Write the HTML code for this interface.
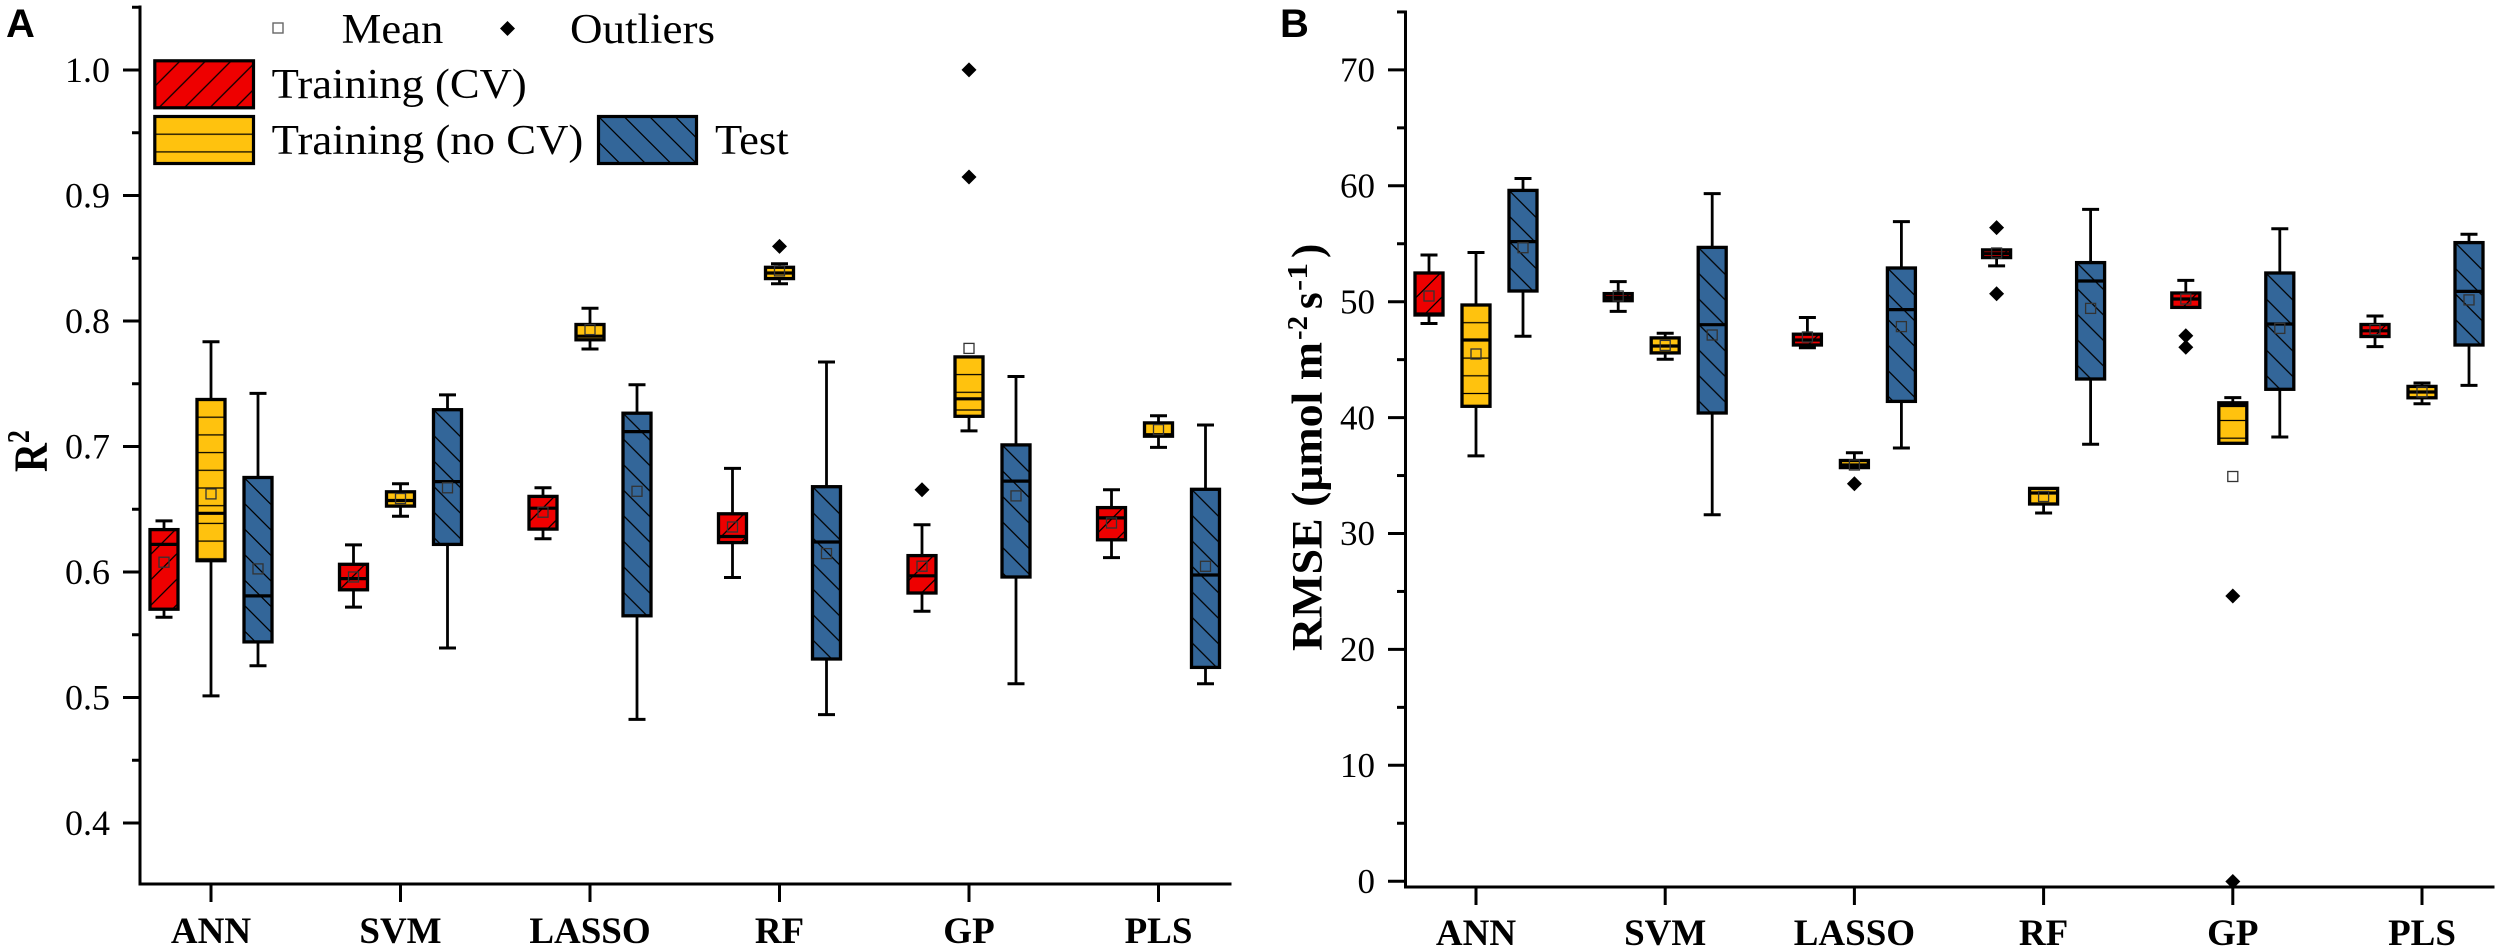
<!DOCTYPE html>
<html>
<head>
<meta charset="utf-8">
<style>
html,body{margin:0;padding:0;background:#fff;width:2500px;height:952px;overflow:hidden}
svg{display:block}
.serif{font-family:"Liberation Serif","Times New Roman",serif;fill:#000}
.sans{font-family:"Liberation Sans",Arial,sans-serif;fill:#000;font-weight:bold}
</style>
</head>
<body>
<svg id="s" xmlns="http://www.w3.org/2000/svg" width="2500" height="952" viewBox="0 0 2500 952">
<defs id="defs"></defs>
<rect x="0" y="0" width="2500" height="952" fill="#fff"/>
<g id="plots"></g>

<!-- Panel A axes -->
<g stroke="#000" stroke-width="3" fill="none" stroke-linecap="square">
  <line x1="140" y1="7" x2="140" y2="884"/>
  <line x1="140" y1="884" x2="1230" y2="884"/>
</g>
<g id="ticksA" stroke="#000" stroke-width="3"></g>

<!-- Panel B axes -->
<g stroke="#000" stroke-width="3" fill="none" stroke-linecap="square">
  <line x1="1405.5" y1="12" x2="1405.5" y2="887"/>
  <line x1="1405.5" y1="887" x2="2493" y2="887"/>
</g>
<g id="ticksB" stroke="#000" stroke-width="3"></g>

<!-- Panel labels -->
<text class="sans" font-family="Liberation Sans, Arial, sans-serif" x="6" y="37" font-size="40">A</text>
<text class="sans" font-family="Liberation Sans, Arial, sans-serif" x="1280" y="37" font-size="40">B</text>

<!-- Panel A y tick labels -->
<g class="serif" font-family="Liberation Serif, Times New Roman, serif" font-size="36" text-anchor="end">
  <text x="110" y="82">1.0</text>
  <text x="110" y="207.5">0.9</text>
  <text x="110" y="333">0.8</text>
  <text x="110" y="458.5">0.7</text>
  <text x="110" y="584">0.6</text>
  <text x="110" y="709.5">0.5</text>
  <text x="110" y="835">0.4</text>
</g>

<!-- Panel B y tick labels -->
<g class="serif" font-family="Liberation Serif, Times New Roman, serif" font-size="35" text-anchor="end">
  <text x="1375" y="81.5">70</text>
  <text x="1375" y="197.5">60</text>
  <text x="1375" y="313.5">50</text>
  <text x="1375" y="429.5">40</text>
  <text x="1375" y="545">30</text>
  <text x="1375" y="661">20</text>
  <text x="1375" y="777">10</text>
  <text x="1375" y="893">0</text>
</g>

<!-- Panel A x labels -->
<g class="serif" font-family="Liberation Serif, Times New Roman, serif" font-size="37" font-weight="bold" text-anchor="middle">
  <text x="211" y="943">ANN</text>
  <text x="400.5" y="943">SVM</text>
  <text x="590" y="943">LASSO</text>
  <text x="779.5" y="943">RF</text>
  <text x="969" y="943">GP</text>
  <text x="1158.5" y="943">PLS</text>
</g>
<!-- Panel B x labels -->
<g class="serif" font-family="Liberation Serif, Times New Roman, serif" font-size="37" font-weight="bold" text-anchor="middle">
  <text x="1476" y="945">ANN</text>
  <text x="1665.2" y="945">SVM</text>
  <text x="1854.4" y="945">LASSO</text>
  <text x="2043.6" y="945">RF</text>
  <text x="2232.8" y="945">GP</text>
  <text x="2422" y="945">PLS</text>
</g>

<!-- Y axis titles -->
<text class="serif" font-family="Liberation Serif, Times New Roman, serif" font-weight="bold" font-size="40" transform="translate(47,472) rotate(-90) scale(1,1.2)">R<tspan font-size="26" dy="-15">2</tspan></text>

<g class="serif" font-family="Liberation Serif, Times New Roman, serif" font-weight="bold">
  <text font-size="43" transform="translate(1321.7,651) rotate(-90)" textLength="309" lengthAdjust="spacingAndGlyphs">RMSE (μmol m</text>
  <text font-size="28" transform="translate(1307,340) rotate(-90)" textLength="24" lengthAdjust="spacingAndGlyphs">-2</text>
  <text font-size="43" transform="translate(1321.7,309) rotate(-90)">s</text>
  <text font-size="28" transform="translate(1307,291) rotate(-90)" textLength="28" lengthAdjust="spacingAndGlyphs">-1</text>
  <text font-size="43" transform="translate(1321.7,258) rotate(-90)">)</text>
</g>

<!-- Legend (panel A) -->
<g id="legend"></g>
<rect x="273" y="23" width="10" height="10" fill="#fff" stroke="#666" stroke-width="1.4"/>
<polygon points="507.5,21 515,28.5 507.5,36 500,28.5" fill="#000"/>
<g class="serif" font-family="Liberation Serif, Times New Roman, serif" font-size="42">
  <text x="341.7" y="43" textLength="101.6" lengthAdjust="spacingAndGlyphs">Mean</text>
  <text x="570" y="43" textLength="145" lengthAdjust="spacingAndGlyphs">Outliers</text>
  <text x="271.7" y="98" textLength="255" lengthAdjust="spacingAndGlyphs">Training (CV)</text>
  <text x="271.7" y="154" textLength="311.6" lengthAdjust="spacingAndGlyphs">Training (no CV)</text>
  <text x="715" y="154" textLength="73.6" lengthAdjust="spacingAndGlyphs">Test</text>
</g>

<script>
(function(){
const NS='http://www.w3.org/2000/svg';
const g=document.getElementById('plots');
const defs=document.getElementById('defs');
const leg=document.getElementById('legend');
let pid=0;
function el(tag,attrs,parent){const e=document.createElementNS(NS,tag);for(const k in attrs)e.setAttribute(k,attrs[k]);(parent||g).appendChild(e);return e;}
const COL=['#EE0000','#FFC20E','#336699'];
function pattern(type,x,y){
  const id='p'+(pid++);
  let p;
  if(type===1){
    const h=17.7;
    p=el('pattern',{id:id,patternUnits:'userSpaceOnUse',x:x,y:y-h/2,width:40,height:h},defs);
    el('line',{x1:-1,y1:h/2,x2:41,y2:h/2,stroke:'#000','stroke-width':1.3},p);
  } else {
    const w=25.5,h=25.5;
    p=el('pattern',{id:id,patternUnits:'userSpaceOnUse',x:x,y:y,width:w,height:h},defs);
    let d;
    if(type===0){ d='M-2,2 L2,-2 M0,'+h+' L'+w+',0 M'+(w-2)+','+(h+2)+' L'+(w+2)+','+(h-2); }
    else { d='M-2,'+(h-2)+' L2,'+(h+2)+' M0,0 L'+w+','+h+' M'+(w-2)+',-2 L'+(w+2)+',2'; }
    el('path',{d:d,stroke:'#000','stroke-width':1.3,fill:'none'},p);
  }
  return 'url(#'+id+')';
}
function hbox(x,y,w,h,type,parent){
  el('rect',{x:x,y:y,width:w,height:h,fill:COL[type]},parent);
  el('rect',{x:x,y:y,width:w,height:h,fill:pattern(type,x,y)},parent);
  el('rect',{x:x,y:y,width:w,height:h,fill:'none',stroke:'#000','stroke-width':3.2},parent);
}
hbox(154.8,60.8,98.7,47,0,leg);
hbox(154.8,116.5,98.7,47,1,leg);
hbox(598.5,116.5,98,47,2,leg);

function drawBox(c,type,d){
  const [wt,bt,med,mean,bb,wb,outs]=d;
  const half=14;
  if(bt-wt>1){
    el('line',{x1:c,y1:wt,x2:c,y2:bt,stroke:'#000','stroke-width':2.8});
    el('line',{x1:c-8.5,y1:wt,x2:c+8.5,y2:wt,stroke:'#000','stroke-width':3});
  }
  if(wb-bb>1){
    el('line',{x1:c,y1:bb,x2:c,y2:wb,stroke:'#000','stroke-width':2.8});
    el('line',{x1:c-8.5,y1:wb,x2:c+8.5,y2:wb,stroke:'#000','stroke-width':3});
  }
  const x=c-half, w=half*2, y=bt+1, h=Math.max(bb-bt-2,2);
  el('rect',{x:x,y:y,width:w,height:h,fill:COL[type]});
  el('rect',{x:x,y:y,width:w,height:h,fill:pattern(type,x,y)});
  el('rect',{x:x,y:y,width:w,height:h,fill:'none',stroke:'#000','stroke-width':3.3});
  el('line',{x1:x,y1:med,x2:x+w,y2:med,stroke:'#000','stroke-width':3.2});
  el('rect',{x:c-5,y:mean-5,width:10,height:10,fill:'none',stroke:'#333','stroke-width':1.3});
  (outs||[]).forEach(o=>{
    el('polygon',{points:(c)+','+(o-7.5)+' '+(c+7.5)+','+o+' '+c+','+(o+7.5)+' '+(c-7.5)+','+o,fill:'#000'});
  });
}
const A=[
 [[520.9,528.6,544.4,562.2,610.2,617.3,[]],[341.8,398.5,513.3,493.9,561.7,695.9,[]],[393.4,476.5,595.9,568.9,642.9,665.8,[]]],
 [[544.9,563.3,578.6,577,590.8,607.1,[]],[483.7,490.8,500.5,498.5,507.1,516.3,[]],[394.9,408.7,481.6,487.8,545.4,648,[]]],
 [[487.8,495.4,508.2,512.2,530.1,538.8,[]],[308.2,323.5,336.2,329.6,340.8,349,[]],[384.7,412.2,431.6,491.3,616.8,719.4,[]]],
 [[468.4,512.8,536.5,527,543.6,577.5,[]],[263.8,266.3,273,270.9,279.6,283.7,[246.4]],[362,485.7,542,553.6,660,714.6,[]]],
 [[524.8,554.6,575.8,566.2,594,611.2,[489.8]],[355.9,355.9,398.8,348.4,417.3,430.9,[69.9,177]],[376.5,443.9,481.1,495.9,578,683.7,[]]],
 [[489.8,506.6,517.9,523,540.8,557.6,[]],[415.8,421.9,434.7,429.6,437.2,447.4,[]],[425,488.3,575,566.3,668.4,683.7,[]]]
];
const B=[
 [[255,272,314,296,316,323.5,[]],[252.5,304,340,354,407.3,455.9,[]],[178.5,189.4,241.6,247.7,292,336.3,[]]],
 [[281.6,292.6,297.4,296,301.7,311.4,[]],[333.2,336.9,346,345.4,353.9,359.3,[]],[193.6,246.4,324.7,335,414,514.7,[]]],
 [[317.5,333.2,340,337,346,347.8,[]],[452.8,459.5,465,465,468.6,468.6,[483.8]],[221.6,267,309.6,326.6,402.4,448,[]]],
 [[248.9,248.9,253.7,253,258.6,265.9,[227.6,293.8]],[487.4,487.4,493,496.5,505,513,[]],[209.4,261.6,281,308.4,380,444.3,[]]],
 [[280.4,292,299,299,308.4,308.4,[335.7,347.2]],[397.6,401.8,405.5,476.5,444.3,444.3,[596,881.5]],[228.8,272,324,328.4,390.3,437,[]]],
 [[316,323.5,330.8,329.6,337.5,346.6,[]],[383,385.4,392,392,398.8,403.7,[]],[234.3,241.6,291.4,299.9,346,385.4,[]]]
];
const off=[-47,0,47];
for(let i=0;i<6;i++){
  const ca=211+189.5*i, cb=1476+189.2*i;
  for(let k=0;k<3;k++){ drawBox(ca+off[k],k,A[i][k]); drawBox(cb+off[k],k,B[i][k]); }
}
const tA=document.getElementById('ticksA');
for(let i=0;i<=6;i++){ const y=823-125.5*i; el('line',{x1:123,y1:y,x2:140,y2:y},tA); }
for(let i=0;i<7;i++){ const y=760.25-125.5*i; el('line',{x1:132,y1:y,x2:140,y2:y},tA); }
for(let i=0;i<6;i++){ const x=211+189.5*i; el('line',{x1:x,y1:884,x2:x,y2:902},tA); }
const tB=document.getElementById('ticksB');
for(let v=0;v<=70;v+=10){ const y=881.2-11.59*v; el('line',{x1:1388,y1:y,x2:1405.5,y2:y},tB); }
for(let v=5;v<=75;v+=10){ const y=881.2-11.59*v; el('line',{x1:1397,y1:y,x2:1405.5,y2:y},tB); }
for(let i=0;i<6;i++){ const x=1476+189.2*i; el('line',{x1:x,y1:887,x2:x,y2:905},tB); }
})();
</script>
</svg>
</body>
</html>
